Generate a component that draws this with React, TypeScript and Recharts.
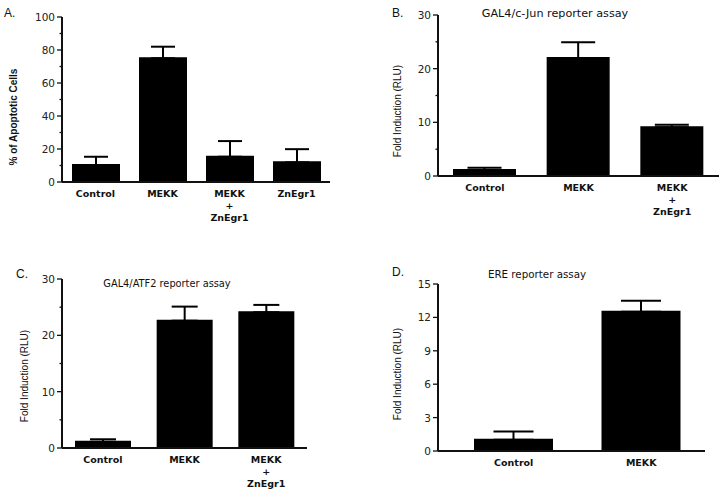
import React from 'react';
import { BarChart, Bar, XAxis, YAxis, ErrorBar } from 'recharts';

// Panel A: apoptosis
const apoptosisCategories = ['Control', 'MEKK', 'MEKK + ZnEgr1', 'ZnEgr1'];
const apoptosisValues = [10.3, 75, 15.3, 11.9];
const apoptosisErrors = [5, 7, 9.5, 8];
const apoptosisTicks = [0, 10, 20, 30, 40, 50, 60, 70, 80, 90, 100];
const apoptosisMajorTicks = [0, 20, 40, 60, 80, 100];

// Panel B: GAL4/c-Jun
const cJunCategories = ['Control', 'MEKK', 'MEKK + ZnEgr1'];
const cJunValues = [1.1, 22, 9.1];
const cJunErrors = [0.45, 2.9, 0.45];

// Panel C: GAL4/ATF2
const atf2Categories = ['Control', 'MEKK', 'MEKK + ZnEgr1'];
const atf2Values = [1.1, 22.6, 24.1];
const atf2Errors = [0.45, 2.5, 1.3];

const foldTicks = [0, 5, 10, 15, 20, 25, 30];
const foldMajorTicks = [0, 10, 20, 30];

// Panel D: ERE
const ereCategories = ['Control', 'MEKK'];
const ereValues = [1.0, 12.5];
const ereErrors = [0.75, 1.0];
const ereTicks = [0, 3, 6, 9, 12, 15];

const INK = '#111';

function YTick(props: any) {
  const { x, y, payload, majors } = props;
  const major = majors.includes(payload.value);
  return (
    <g>
      <line x1={x - (major ? 5 : 2.5)} x2={x} y1={y} y2={y} stroke={INK} strokeWidth={1.3} />
      {major && (
        <text x={x - 7} y={y} dy={4} textAnchor="end" fontFamily="DejaVu Sans" fontSize={10.5} fill="#222">
          {payload.value}
        </text>
      )}
    </g>
  );
}

function XTick(props: any) {
  const { x, y, payload } = props;
  const parts = String(payload.value).split(' + ');
  const lines = parts.length > 1 ? [parts[0], '+', parts[1]] : parts;
  return (
    <text x={x} y={y + 15} textAnchor="middle" fontFamily="DejaVu Sans" fontWeight="bold" fontSize={9.5} fill={INK}>
      {lines.map((l, i) => (
        <tspan key={i} x={x} dy={i === 0 ? 0 : 12}>
          {l}
        </tspan>
      ))}
    </text>
  );
}

type PanelProps = {
  left: number;
  top: number;
  width: number;
  height: number;
  margin: { top: number; right: number; bottom: number; left: number };
  categories: string[];
  values: number[];
  errors: number[];
  ticks: number[];
  majors: number[];
  max: number;
  barSize: number;
  cap: number;
  yLabel: string;
  yLabelX: number;
  yLabelY: number;
  yLabelBold?: boolean;
  padLeft?: number;
};

function Panel(p: PanelProps) {
  const data = p.categories.map((c, i) => ({
    name: c,
    value: p.values[i],
    err: [0, p.errors[i]],
  }));
  const yTitle = () => (
    <text
      x={p.yLabelX}
      y={p.yLabelY}
      transform={`rotate(-90 ${p.yLabelX} ${p.yLabelY})`}
      textAnchor="middle"
      dominantBaseline="central"
      fontFamily="Liberation Sans"
      fontWeight={p.yLabelBold ? 'bold' : 'normal'}
      fontSize={10}
      fill={INK}
    >
      {p.yLabel}
    </text>
  );
  return (
    <div style={{ position: 'absolute', left: p.left, top: p.top }}>
      <BarChart width={p.width} height={p.height} data={data} margin={p.margin}>
        <XAxis
          dataKey="name"
          height={40}
          interval={0}
          tickLine={false}
          tickSize={0}
          tickMargin={0}
          axisLine={{ stroke: INK, strokeWidth: 2 }}
          tick={<XTick />}
          padding={{ left: p.padLeft ?? 0, right: 0 }}
        />
        <YAxis
          width={50}
          domain={[0, p.max]}
          ticks={p.ticks}
          interval={0}
          tickLine={false}
          tickSize={0}
          tickMargin={0}
          axisLine={{ stroke: INK, strokeWidth: 2 }}
          tick={(tp: any) => <YTick {...tp} majors={p.majors} />}
          label={{ content: yTitle }}
        />
        {/* the 2px outline lifts the bar top to cover the lower cap of the one-sided error bar */}
        <Bar dataKey="value" fill="#000" stroke="#000" strokeWidth={2} barSize={p.barSize - 2} isAnimationActive={false}>
          <ErrorBar dataKey="err" direction="y" width={p.cap} stroke="#000" strokeWidth={2} isAnimationActive={false} />
        </Bar>
      </BarChart>
    </div>
  );
}

const letterStyle: React.CSSProperties = {
  position: 'absolute',
  fontFamily: 'Liberation Sans',
  fontSize: 12,
  lineHeight: '12px',
  color: INK,
};

const titleStyle: React.CSSProperties = {
  position: 'absolute',
  width: 240,
  textAlign: 'center',
  fontFamily: 'DejaVu Sans',
  lineHeight: '12px',
  color: INK,
};

export default function App() {
  return (
    <div style={{ position: 'absolute', left: 0, top: 0, width: 720, height: 492, background: '#fff', overflow: 'hidden' }}>
      <Panel
        left={0}
        top={0}
        width={340}
        height={240}
        margin={{ top: 17, right: 10, bottom: 18, left: 12 }}
        categories={apoptosisCategories}
        values={apoptosisValues}
        errors={apoptosisErrors}
        ticks={apoptosisTicks}
        majors={apoptosisMajorTicks}
        max={100}
        barSize={48}
        cap={12}
        yLabel="% of Apoptotic Cells"
        yLabelX={13}
        yLabelY={117}
        yLabelBold
      />
      <Panel
        left={360}
        top={0}
        width={360}
        height={240}
        margin={{ top: 15, right: 1, bottom: 24, left: 28 }}
        categories={cJunCategories}
        values={cJunValues}
        errors={cJunErrors}
        ticks={foldTicks}
        majors={foldMajorTicks}
        max={30}
        barSize={63}
        cap={17}
        yLabel="Fold Induction (RLU)"
        yLabelX={37}
        yLabelY={111}
      />
      <Panel
        left={0}
        top={250}
        width={330}
        height={242}
        margin={{ top: 29, right: 23, bottom: 4, left: 12 }}
        categories={atf2Categories}
        values={atf2Values}
        errors={atf2Errors}
        ticks={foldTicks}
        majors={foldMajorTicks}
        max={30}
        barSize={56}
        cap={13}
        yLabel="Fold Induction (RLU)"
        yLabelX={24}
        yLabelY={126}
      />
      <Panel
        left={360}
        top={250}
        width={360}
        height={242}
        margin={{ top: 34, right: 15, bottom: 1, left: 28 }}
        categories={ereCategories}
        values={ereValues}
        errors={ereErrors}
        ticks={ereTicks}
        majors={ereTicks}
        max={15}
        barSize={79}
        cap={20}
        yLabel="Fold Induction (RLU)"
        yLabelX={37}
        yLabelY={124}
        padLeft={12}
      />

      <div style={{ ...letterStyle, left: 4, top: 7 }}>A.</div>
      <div style={{ ...letterStyle, left: 392, top: 7 }}>B.</div>
      <div style={{ ...letterStyle, left: 16, top: 268 }}>C.</div>
      <div style={{ ...letterStyle, left: 392, top: 266 }}>D.</div>

      <div style={{ ...titleStyle, fontSize: 11.2, left: 555 - 120, top: 8 }}>GAL4/c-Jun reporter assay</div>
      <div style={{ ...titleStyle, fontSize: 9.8, left: 167 - 120, top: 278 }}>GAL4/ATF2 reporter assay</div>
      <div style={{ ...titleStyle, fontSize: 10.3, left: 537 - 120, top: 268 }}>ERE reporter assay</div>
    </div>
  );
}
